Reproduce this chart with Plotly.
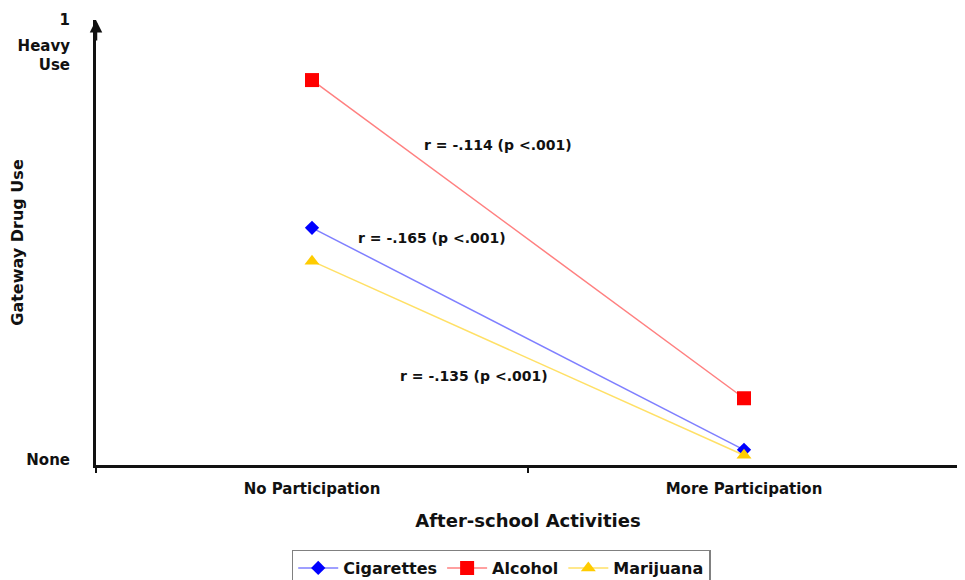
import plotly.graph_objects as go

categories = ["No Participation", "More Participation"]
series_names = ["Cigarettes", "Alcohol", "Marijuana"]
cigarettes = [0.533, 0.034]
alcohol = [0.865, 0.150]
marijuana = [0.458, 0.022]

y_tick_vals = [0.011, 0.921, 1.0]
y_tick_text = ["None", "Heavy<br>Use", "1"]

r_labels = ["r = -.114 (p <.001)", "r = -.165 (p <.001)", "r = -.135 (p <.001)"]
r_label_x = [0.431, 0.277, 0.374]
r_label_y = [0.719, 0.510, 0.200]

FONT = "DejaVu Sans"
values = [cigarettes, alcohol, marijuana]
marker_colors = ["#0000FF", "#FF0000", "#FFCC00"]
line_colors = ["#7F7FFF", "#FF8080", "#FFE066"]
symbols = ["diamond", "square", "triangle-up"]
sizes = [11, 14, 13]

fig = go.Figure()
for name, vals, mc, lc, sym, sz in zip(series_names, values, marker_colors, line_colors, symbols, sizes):
    fig.add_trace(go.Scatter(
        x=categories, y=vals, name=name, mode="lines+markers",
        line=dict(color=lc, width=1.5),
        marker=dict(color=mc, symbol=sym, size=sz, line=dict(width=0)),
    ))

annotations = []
for txt, ax_, ay_ in zip(r_labels, r_label_x, r_label_y):
    annotations.append(dict(x=ax_, y=ay_, xref="x", yref="y", text=f"<b>{txt}</b>",
                            showarrow=False, font=dict(family=FONT, size=14, color="#111")))
# arrow head at top of y axis
annotations.append(dict(x=0, y=1.0, xref="paper", yref="paper", ax=0, ay=22, axref="pixel", ayref="pixel",
                        showarrow=True, arrowhead=2, arrowsize=1, arrowwidth=2.5, arrowcolor="#111", text=""))

fig.update_layout(
    width=957, height=572,
    margin=dict(l=88, r=5, t=12, b=115, autoexpand=False),
    paper_bgcolor="white", plot_bgcolor="white",
    font=dict(family=FONT, color="#111"),
    showlegend=True,
    legend=dict(orientation="h", x=0.469, xanchor="center", y=-0.19, yanchor="top",
                bordercolor="#808080", borderwidth=1.5, bgcolor="white",
                font=dict(family=FONT, size=16, color="#111", weight="bold"),
                itemwidth=40, tracegroupgap=0),
    xaxis=dict(type="category", range=[-0.5, 1.5], showline=True, linecolor="#111", linewidth=3,
               tickson="boundaries", ticks="outside", ticklen=5, tickwidth=1.5, tickcolor="#111",
               showgrid=False, zeroline=False, automargin=False, ticklabelstandoff=8,
               tickfont=dict(family=FONT, size=15, weight="bold"),
               title=dict(text="<b>After-school Activities</b>", font=dict(family=FONT, size=18), standoff=18)),
    yaxis=dict(range=[0, 1], showline=True, linecolor="#111", linewidth=3, showgrid=False, zeroline=False,
               automargin=False,
               tickvals=y_tick_vals, ticktext=y_tick_text, ticks="", ticklabelstandoff=20,
               tickfont=dict(family=FONT, size=15, weight="bold"),
               title=dict(text="<b>Gateway Drug Use</b>", font=dict(family=FONT, size=16), standoff=0)),
    annotations=annotations,
)

fig.write_html("out.html")
